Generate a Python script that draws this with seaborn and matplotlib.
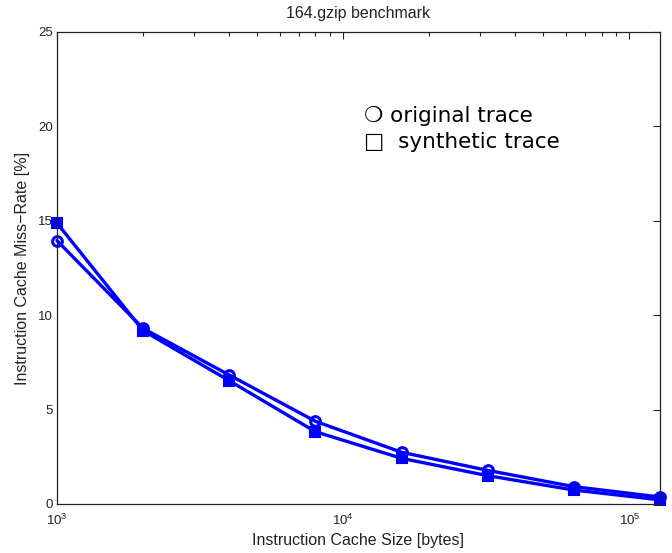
import matplotlib
matplotlib.use("Agg")
import matplotlib.pyplot as plt
import seaborn as sns
import pandas as pd
import numpy as np
from matplotlib.ticker import LogLocator, LogFormatterMathtext, NullFormatter

cache_size = [1000, 2000, 4000, 8000, 16000, 32000, 64000, 128000]
original = [13.95, 9.3, 6.83, 4.38, 2.74, 1.78, 0.92, 0.37]
synthetic = [14.88, 9.18, 6.53, 3.83, 2.42, 1.50, 0.74, 0.22]

sns.set_style("white")
plt.rcParams['font.family'] = ['Liberation Sans', 'DejaVu Sans']
plt.rcParams['mathtext.fontset'] = 'custom'
plt.rcParams['mathtext.rm'] = 'Liberation Sans'

fig = plt.figure(figsize=(6.72, 5.53), dpi=100)
ax = fig.add_axes([57/672, 49/553, (660-57)/672, (504-32)/553])

df_o = pd.DataFrame({"size": cache_size, "rate": original})
df_s = pd.DataFrame({"size": cache_size, "rate": synthetic})
sns.lineplot(data=df_o, x="size", y="rate", ax=ax, color="#0000ff", lw=2.4,
             marker="o", markersize=7, markerfacecolor="none",
             markeredgecolor="#0000ff", markeredgewidth=2.2, clip_on=False)
sns.lineplot(data=df_s, x="size", y="rate", ax=ax, color="#0000ff", lw=2.4,
             marker="s", markersize=7, markerfacecolor="#0000ff",
             markeredgecolor="#0000ff", markeredgewidth=1.5, clip_on=False)

ax.set_xscale("log")
ax.set_xlim(1000, 128000)
ax.set_ylim(0, 25)
ax.set_yticks([0, 5, 10, 15, 20, 25])
ax.xaxis.set_major_locator(LogLocator(base=10))
ax.xaxis.set_major_formatter(LogFormatterMathtext())
ax.xaxis.set_minor_locator(LogLocator(base=10, subs=np.arange(2, 10)))
ax.xaxis.set_minor_formatter(NullFormatter())
ax.tick_params(axis="both", which="both", direction="in", top=True, right=True,
               labelsize=9.5, colors="#222222")
ax.tick_params(axis="y", which="major", pad=3)
ax.tick_params(axis="x", which="major", pad=6)
ax.tick_params(axis="both", which="major", length=5, width=0.8)
ax.tick_params(axis="x", which="minor", length=3, width=0.8)
for s in ax.spines.values():
    s.set_color("#222222")
    s.set_linewidth(0.9)

ax.set_xlabel("Instruction Cache Size [bytes]", fontsize=11.5, color="#222222", labelpad=4)
ax.set_ylabel("Instruction Cache Miss\u2212Rate [%]", fontsize=11.5, color="#222222", labelpad=6)
ax.set_title("164.gzip benchmark", fontsize=11.5, color="#222222", pad=10)

fig.text(364/672, 1-116/553, "\u274d original trace", fontsize=15.5,
         family=['DejaVu Sans'], va="center", ha="left", color="black")
fig.text(364/672, 1-142/553, "\u25a1  synthetic trace", fontsize=15.5,
         family=['DejaVu Sans'], va="center", ha="left", color="black")

fig.savefig("out.png", dpi=100)
